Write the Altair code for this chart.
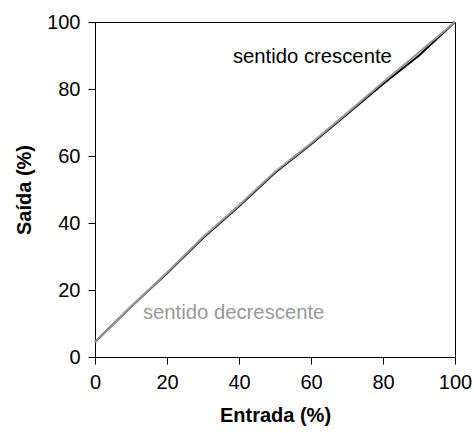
import altair as alt
import pandas as pd

# Input (%) at which the output was measured
entrada = [0, 10, 20, 30, 40, 50, 60, 70, 80, 90, 100]
# Output (%) when the input is raised
saida_crescente = [4.5, 15.0, 25.0, 35.5, 45.0, 55.0, 63.5, 72.5, 81.5, 90.0, 100.0]
# Output (%) when the input is lowered
saida_decrescente = [4.5, 15.0, 25.2, 35.8, 45.3, 55.3, 63.8, 72.8, 82.0, 91.0, 100.0]

serie_nomes = ["sentido crescente", "sentido decrescente"]
serie_cores = ["#000000", "#999999"]

rows = []
for nome, valores in zip(serie_nomes, [saida_crescente, saida_decrescente]):
    for x, y in zip(entrada, valores):
        rows.append({"entrada": x, "saida": y, "sentido": nome})
df = pd.DataFrame(rows)

rotulos = pd.DataFrame({
    "texto": serie_nomes,
    "x": [38.3, 13.3],
    "y": [87.8, 11.3],
})

FONT = "Liberation Sans"

xscale = alt.Scale(domain=[0, 100], nice=False)
yscale = alt.Scale(domain=[0, 100], nice=False)

linhas = alt.Chart(df).mark_line(strokeWidth=2).encode(
    x=alt.X("entrada:Q", scale=xscale,
            axis=alt.Axis(title="Entrada (%)", values=[0, 20, 40, 60, 80, 100])),
    y=alt.Y("saida:Q", scale=yscale,
            axis=alt.Axis(title="Saída (%)", values=[0, 20, 40, 60, 80, 100])),
    color=alt.Color("sentido:N",
                    scale=alt.Scale(domain=serie_nomes, range=serie_cores),
                    legend=None),
    order=alt.Order("entrada:Q"),
)

textos = alt.Chart(rotulos).mark_text(
    align="left", baseline="alphabetic", font=FONT, fontSize=20.3
).encode(
    x=alt.X("x:Q", scale=xscale),
    y=alt.Y("y:Q", scale=yscale),
    text="texto:N",
    color=alt.Color("texto:N",
                    scale=alt.Scale(domain=serie_nomes, range=serie_cores),
                    legend=None),
)

chart = alt.layer(linhas, textos).properties(
    width=360,
    height=335,
    autosize=alt.AutoSizeParams(type="none"),
    padding={"left": 95, "top": 22, "right": 19, "bottom": 76},
).configure_view(
    stroke="#000000", strokeWidth=1
).configure_axis(
    grid=False,
    domainColor="#000000",
    tickColor="#000000",
    tickSize=7,
    labelFont=FONT,
    labelFontSize=20,
    labelColor="#000000",
    labelFlush=False,
    labelOverlap=False,
    titleFont=FONT,
    titleFontSize=20,
    titleFontWeight="bold",
    titleColor="#000000",
).configure_axisY(
    labelPadding=8,
    titlePadding=12,
).configure_axisX(
    labelPadding=8,
    titlePadding=13,
)

chart.save("out.html", embed_options={"renderer": "svg", "actions": False})
